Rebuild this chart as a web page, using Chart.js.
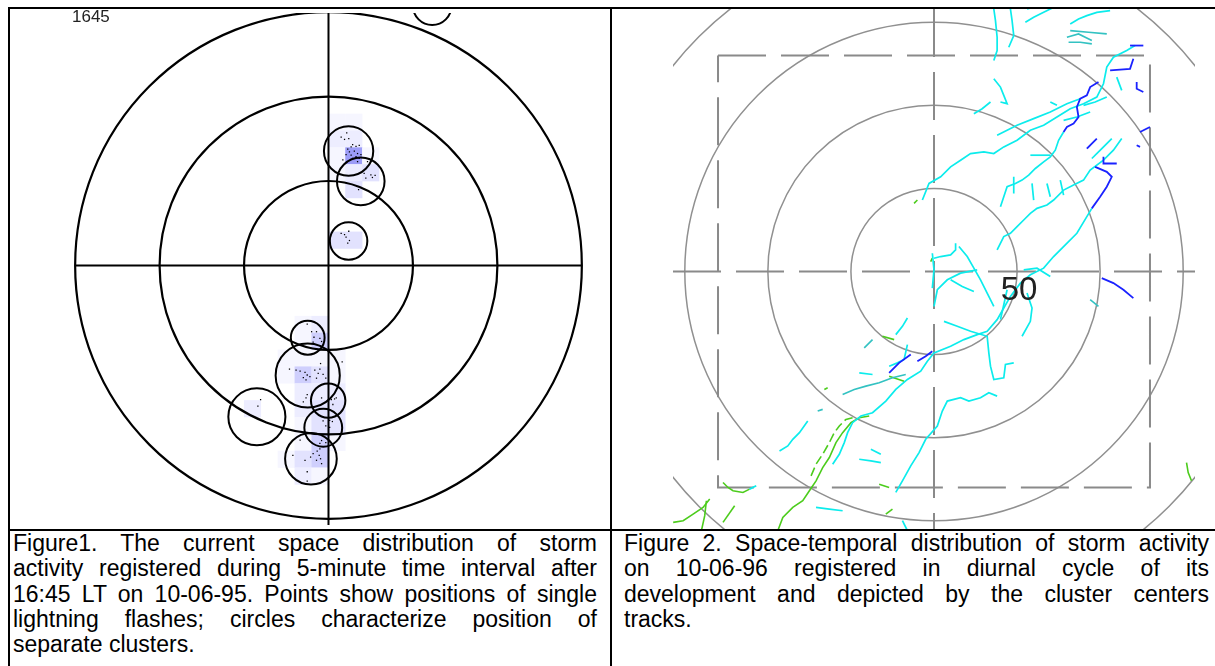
<!DOCTYPE html>
<html>
<head>
<meta charset="utf-8">
<script src="https://cdn.jsdelivr.net/npm/chart.js@4.4.0/dist/chart.umd.min.js"></script>
<style>
  html, body { margin: 0; padding: 0; background: #fff; }
  body { width: 1215px; height: 666px; position: relative; overflow: hidden;
         font-family: Arial, "Liberation Sans", sans-serif; }
  canvas { position: absolute; }
  .rule { position: absolute; background: #000; z-index: 2; }
  .caption { position: absolute; font-size: 23px; line-height: 25.3px; color: #000; }
  .caption div { text-align: justify; text-align-last: justify; }
  .caption div.last { text-align-last: left; }
  #stamp { position: absolute; left: 72px; top: 9px; font-size: 17px; line-height: 16px; color: #222; }
</style>
</head>
<body>

<canvas id="left" width="600" height="520" style="left:10px; top:9px;"></canvas>
<canvas id="right" width="522" height="520" style="left:673px; top:9px;"></canvas>

<div class="rule" style="left:8px; top:7px; width:1207px; height:2px;"></div>
<div class="rule" style="left:8px; top:7px; width:2px; height:659px;"></div>
<div class="rule" style="left:610px; top:7px; width:2px; height:659px;"></div>
<div class="rule" style="left:8px; top:529px; width:1207px; height:2px;"></div>

<div id="stamp">1645</div>

<div class="caption" style="left:13px; top:531px; width:584px;">
  <div>Figure1. The current space distribution of storm</div>
  <div>activity registered during 5-minute time interval after</div>
  <div>16:45 LT on 10-06-95. Points show positions of single</div>
  <div>lightning flashes; circles characterize position of</div>
  <div class="last">separate clusters.</div>
</div>
<div class="caption" style="left:624px; top:531px; width:585px;">
  <div>Figure 2. Space-temporal distribution of storm activity</div>
  <div>on 10-06-96 registered in diurnal cycle of its</div>
  <div>development and depicted by the cluster centers</div>
  <div class="last">tracks.</div>
</div>

<script>
// ---- figure 1: single flashes, density cells and clusters (km from the station) ----
const ringsLeft = [50, 100, 150];

// cluster circles: x, y, radius (km)
const clusters = [
  [11.9, 67.9, 14.6], [19.1, 49.9, 14.1], [11.9, 14.5, 11.1],
  [-12.3, -42.9, 10.0], [-12.3, -65.3, 19.0], [-0.2, -80.2, 10.2],
  [-42.4, -89.8, 16.9], [-3.1, -96.3, 11.2], [-10.4, -114.7, 15.3],
  [61.4, 154.1, 11.4]
];

// density grid: column, row (10 km cells), level 1..5
const cellKm = 10;
const cells = [
  [0, 8, 1], [1, 8, 1],
  [0, 7, 2], [1, 7, 2],
  [0, 6, 1], [1, 6, 5], [2, 6, 1],
  [0, 5, 1], [1, 5, 2], [2, 5, 3],
  [1, 4, 3],
  [0, 1, 3], [1, 1, 3],
  [-2, -4, 1], [-1, -4, 2],
  [-2, -5, 1], [-1, -5, 4],
  [-3, -6, 1], [-2, -6, 1], [-1, -6, 1], [0, -6, 1],
  [-3, -7, 1], [-2, -7, 4], [-1, -7, 3], [0, -7, 1],
  [-2, -8, 2], [-1, -8, 2], [0, -8, 2],
  [-5, -9, 2], [-2, -9, 2], [-1, -9, 3], [0, -9, 3],
  [-2, -10, 1], [-1, -10, 3], [0, -10, 3],
  [-2, -11, 1], [-1, -11, 4], [0, -11, 1],
  [-3, -12, 1], [-2, -12, 3], [-1, -12, 4],
  [-2, -13, 2], [-1, -13, 1]
];
const cellColors = [null, '#f6f6ff', '#ededff', '#e2e2fe', '#cfcffd', '#9c9cf7'];

// single lightning flashes (km)
const flashes = [
  [7.5, 76.2], [10.8, 78.7], [9.5, 74.8], [12.0, 75.2], [14.3, 71.7], [13.4, 70.3],
  [16.3, 70.7], [18.2, 71.3], [11.4, 69.0], [12.4, 67.4], [15.3, 67.8], [17.2, 66.4],
  [13.4, 65.5], [16.3, 64.5], [19.2, 65.8], [10.4, 65.8], [14.3, 63.5], [8.5, 62.6],
  [18.2, 63.5], [17.2, 61.6], [23.1, 61.6], [21.1, 54.7], [25.1, 53.8], [26.0, 52.2],
  [27.6, 53.4], [22.1, 51.8], [17.8, 45.0], [7.5, 19.1], [9.5, 18.3], [12.0, 20.3],
  [10.4, 16.8], [12.4, 14.8], [11.4, 13.3],
  [-12.6, -34.8], [-10.0, -39.3], [-7.1, -39.3], [-8.6, -42.6], [-5.1, -43.2],
  [-9.1, -45.5], [-4.1, -45.1], [-5.1, -47.5], [8.1, -57.2], [-23.1, -61.5],
  [-19.2, -62.1], [-16.8, -62.7], [-13.9, -63.4], [-12.6, -65.0], [-14.9, -66.5],
  [-13.3, -67.9], [-11.0, -66.0], [-8.1, -62.1], [-6.1, -64.0], [-5.1, -61.5],
  [-3.2, -64.6], [-1.6, -66.9], [-7.1, -66.9], [-4.7, -58.2], [-12.6, -76.7],
  [-13.3, -78.6], [-14.9, -81.0], [-4.1, -78.6], [-0.3, -80.2], [1.7, -79.6],
  [3.6, -79.2], [4.6, -78.6], [2.6, -82.5], [0.7, -85.5], [-40.2, -79.6],
  [-41.8, -83.5], [-3.2, -92.2], [0.7, -91.9], [2.3, -92.6], [-1.6, -95.2],
  [0.7, -96.1], [-4.1, -103.9], [-5.1, -105.5], [-1.6, -105.1], [-16.8, -103.6],
  [-5.1, -108.8], [-6.7, -110.2], [-9.1, -111.7], [-5.5, -112.7], [-10.6, -113.7],
  [-7.1, -115.6], [-4.7, -114.7], [-4.1, -117.6], [-13.9, -115.6], [-21.1, -112.7],
  [-12.6, -122.4], [-12.6, -127.9]
];

// ---- figure 2: cluster centre tracks over the day (km) ----
const ringsRight = [50, 100, 150, 200];
const squareHalf = 130;
const ringLabel = 50;

const cyanTracks = [
  [[-7,43],[-3,53],[4,57],[10,63],[16,67],[22,71],[30,72],[36,71],[42,75],[50,79],[58,85],[66,88],[74,93],[82,98],[90,101],[98,105],[102,113],[104,123],[108,129],[116,133],[121,136]],
  [[38,82],[44,85],[50,88],[60,92],[70,96],[80,101],[88,104]],
  [[36,127],[38,133],[38,141],[37,151],[36,158]],
  [[45,135],[48,142],[47,151],[46,158]],
  [[55,150],[60,153],[66,156],[72,159]],
  [[82,149],[87,152],[92,154],[98,156],[106,157]],
  [[56,158],[63,160],[70,161]],
  [[36,116],[40,111],[42,106],[44,101],[40,102]],
  [[24,95],[29,98],[34,102]],
  [[78,84],[75,79],[73,73],[70,69],[66,66],[61,62],[57,58],[53,55],[49,53],[44,51],[42,45],[40,39]],
  [[38,13],[42,21],[46,23],[50,27],[54,31],[58,35],[62,38],[68,40],[72,43],[78,49],[84,52],[90,55],[94,61],[102,67],[108,73],[113,80]],
  [[-61,-116],[-57,-110],[-54,-103],[-52,-97],[-49,-91],[-44,-87],[-37,-85],[-29,-78],[-23,-71],[-16,-65],[-8,-60],[-4,-54],[0,-49],[10,-45],[18,-41],[26,-38],[32,-36],[38,-29],[42,-22],[46,-15],[52,-7],[58,-2],[66,2],[72,9],[78,15],[86,23],[92,33],[95,38]],
  [[0,8],[4,9],[10,10],[13,13],[13,17]],
  [[15,15],[20,9],[24,2],[28,-5],[32,-13],[36,-21]],
  [[0,-21],[2,-11],[8,-5],[16,-1],[26,1]],
  [[-1,11],[0,1],[-1,-10]],
  [[10,-5],[17,-9],[24,-12]],
  [[6,-30],[14,-33],[22,-36],[32,-39],[33,-49],[34,-57],[36,-65],[42,-64],[43,-56],[48,-55]],
  [[44,-11],[42,-20],[40,-29]],
  [[56,-13],[59,-22],[58,-30],[53,-39]],
  [[-23,-133],[-19,-126],[-14,-117],[-9,-109],[-5,-101],[2,-93],[5,-84],[8,-78],[16,-76],[21,-78],[28,-76],[33,-73],[38,-75]],
  [[-27,-57],[-22,-55],[-18,-53],[-16,-44]],
  [[-16,-28],[-19,-33],[-23,-38]],
  [[-45,-61],[-37,-62]],
  [[-93,-108],[-88,-105],[-85,-101],[-81,-97],[-76,-90]],
  [[-45,-113],[-38,-114],[-32,-115]],
  [[-38,-107],[-32,-110]],
  [[-71,-142],[-63,-143],[-55,-144]],
  [[-19,-150],[-16,-156]],
  [[-111,-131],[-107,-129]],
  [[54,1],[62,2],[70,-3]],
  [[110,117],[113,109]],
  [[70,102],[74,100]],
  [[90,100],[97,102],[104,105]],
  [[78,91],[86,93],[94,96]],
  [[48,57],[48,47]],
  [[59,53],[60,43]],
  [[68,53],[70,45]],
  [[76,55],[78,46]],
  [[58,70],[70,70]],
  [[107,80],[101,74],[95,68]]
];
const tealTracks = [
  [[80,141],[87,143],[95,139]],
  [[82,145],[93,144],[104,143]],
  [[81,138],[88,138],[95,137]],
  [[-55,-74],[-48,-71],[-41,-69],[-33,-67],[-25,-64],[-17,-62]],
  [[-42,-46],[-37,-41]],
  [[94,-17],[99,-21]],
  [[-70,-84],[-67,-83]]
];
const blueTracks = [
  [[99,114],[94,111],[92,106],[88,104],[86,99],[87,93],[84,89],[80,87],[78,84]],
  [[97,63],[104,60],[107,57],[104,51],[100,45],[95,38]],
  [[102,69],[102,65],[110,65]],
  [[92,74],[98,80]],
  [[101,-4],[108,-7],[114,-11],[120,-16]],
  [[118,136],[126,136]],
  [[106,121],[118,122],[120,128]],
  [[122,114],[122,110],[126,108]],
  [[124,84],[130,87]],
  [[122,76],[124,75]],
  [[-14,-50],[-21,-55],[-27,-61]],
  [[-10,-54],[-5,-51],[-1,-48]]
];
const greenTracks = [
  [[-94,-156],[-91,-148],[-85,-142],[-79,-138],[-75,-132],[-71,-126],[-67,-118],[-63,-112],[-59,-103],[-55,-97],[-50,-91],[-45,-88],[-39,-87]],
  [[-127,-127],[-124,-130],[-121,-132],[-115,-133],[-111,-131]],
  [[-157,-151],[-151,-150],[-145,-146],[-139,-142],[-135,-137]],
  [[-137,-138],[-138,-147],[-140,-156]],
  [[-127,-151],[-120,-141]],
  [[-27,-63],[-18,-66]],
  [[-31,-39],[-24,-41]],
  [[-33,-128],[-27,-130]],
  [[-29,-146],[-25,-143]],
  [[152,-115],[153,-121],[155,-126]],
  [[-66,-71],[-64,-70]],
  [[-12,41],[-10,43]],
  [[-2,6],[-1,8]]
];
// broken green track west of the main one
const greenDashedTrack = [[-74,-123],[-71,-116],[-67,-110],[-63,-103],[-60,-97],[-57,-93],[-53,-89],[-49,-88]];

// km -> pixels along x, through the chart's own scale
function kmToPx(chart, km) {
  const s = chart.scales.x;
  return Math.abs(s.getPixelForValue(km) - s.getPixelForValue(0));
}

function circleSet(items, color, width) {
  return {
    data: items.map(c => ({ x: c[0], y: c[1], size: c[2] })),
    pointStyle: 'circle',
    pointRadius: ctx => ctx.raw ? kmToPx(ctx.chart, ctx.raw.size) : 0,
    pointBackgroundColor: 'rgba(0,0,0,0)',
    pointBorderColor: color,
    pointBorderWidth: width
  };
}

function lineSet(points, color, width, dash) {
  return {
    data: points.map(p => ({ x: p[0], y: p[1] })),
    showLine: true,
    borderColor: color,
    borderWidth: width,
    borderDash: dash || [],
    pointRadius: 0,
    fill: false,
    tension: 0
  };
}

const baseOptions = (xr, yr) => ({
  responsive: false,
  animation: false,
  devicePixelRatio: 1,
  events: [],
  layout: { padding: 0 },
  plugins: { legend: { display: false }, tooltip: { enabled: false } },
  scales: {
    x: { type: 'linear', min: xr[0], max: xr[1], display: false },
    y: { type: 'linear', min: yr[0], max: yr[1], display: false }
  }
});

// ---- left chart ----
const xrL = [-186.2, 164.3];
const yrL = [-154.0, 149.8];
const outerL = ringsLeft[ringsLeft.length - 1];
const leftSets = [];
leftSets.push(circleSet(clusters, '#000', 2));
leftSets.push(circleSet(ringsLeft.map(r => [0, 0, r]), '#000', 2.2));
leftSets.push(lineSet([[-outerL, 0], [outerL, 0]], '#000', 2));
leftSets.push(lineSet([[0, yrL[1]], [0, yrL[0]]], '#000', 2));
leftSets.push({
  data: flashes.map(f => ({ x: f[0], y: f[1] })),
  pointStyle: 'rect',
  pointRadius: 0.9,
  pointBackgroundColor: '#000',
  pointBorderWidth: 0
});
leftSets.push({
  data: cells.map(c => ({ x: c[0] * cellKm + cellKm / 2, y: c[1] * cellKm + cellKm / 2, level: c[2] })),
  pointStyle: 'rect',
  pointRadius: ctx => ctx.raw ? kmToPx(ctx.chart, cellKm) / Math.SQRT2 + 0.2 : 0,
  pointBackgroundColor: ctx => ctx.raw ? cellColors[ctx.raw.level] : 'rgba(0,0,0,0)',
  pointBorderWidth: 0
});

new Chart(document.getElementById('left'), {
  type: 'scatter',
  data: { datasets: leftSets },
  options: baseOptions(xrL, yrL)
});

// ---- right chart ----
const xrR = [-157.1, 157.1];
const yrR = [-155.0, 158.0];
const q = squareHalf;
const gridGrey = '#8a8a8a';
const dash = [48, 15];

const rightSets = [];
blueTracks.forEach(t => rightSets.push(lineSet(t, '#1a22ff', 1.8)));
cyanTracks.forEach(t => rightSets.push(lineSet(t, '#0cecec', 1.7)));
tealTracks.forEach(t => rightSets.push(lineSet(t, '#33c2c2', 1.6)));
greenTracks.forEach(t => rightSets.push(lineSet(t, '#4ccc1c', 1.6)));
rightSets.push(lineSet(greenDashedTrack, '#4ccc1c', 1.6, [9, 4]));
rightSets.push(lineSet([[-q, q], [q, q], [q, -q], [-q, -q], [-q, q]], gridGrey, 2, dash));
rightSets.push(lineSet([[xrR[0], 0], [xrR[1], 0]], gridGrey, 2, dash));
rightSets.push(lineSet([[0, yrR[1]], [0, yrR[0]]], gridGrey, 2, dash));
rightSets.push(circleSet(ringsRight.map(r => [0, 0, r]), '#909090', 1.5));

const ringLabelPlugin = {
  id: 'ringLabel',
  afterDatasetsDraw(chart) {
    const { ctx, scales: { x, y } } = chart;
    ctx.save();
    ctx.font = '33px Arial, "Liberation Sans", sans-serif';
    ctx.fillStyle = '#222';
    ctx.textAlign = 'center';
    ctx.textBaseline = 'middle';
    ctx.fillText(String(ringLabel), x.getPixelForValue(ringLabel) + 2, y.getPixelForValue(0) + 19);
    ctx.restore();
  }
};

new Chart(document.getElementById('right'), {
  type: 'scatter',
  data: { datasets: rightSets },
  options: baseOptions(xrR, yrR),
  plugins: [ringLabelPlugin]
});
</script>
</body>
</html>
